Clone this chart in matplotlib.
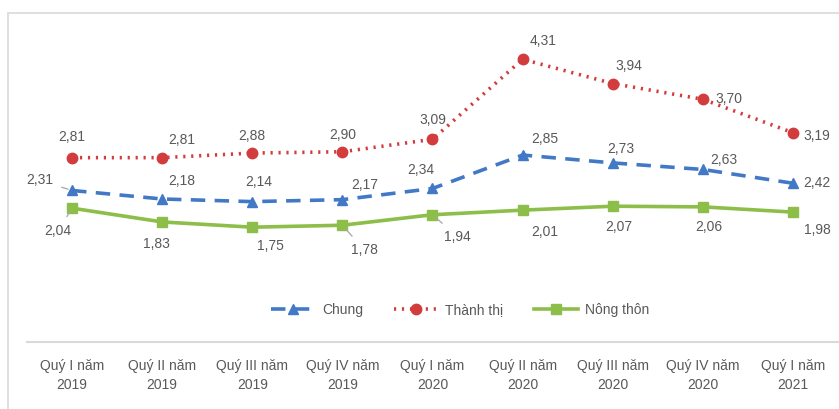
import matplotlib
matplotlib.use("Agg")
import matplotlib.pyplot as plt
from matplotlib.patches import Rectangle

plt.rcParams['font.family'] = ['Liberation Sans Narrow', 'Liberation Sans', 'DejaVu Sans']

quarters = ["Quý I năm\n2019", "Quý II năm\n2019", "Quý III năm\n2019", "Quý IV năm\n2019",
            "Quý I năm\n2020", "Quý II năm\n2020", "Quý III năm\n2020", "Quý IV năm\n2020",
            "Quý I năm\n2021"]
chung = [2.31, 2.18, 2.14, 2.17, 2.34, 2.85, 2.73, 2.63, 2.42]
thanh_thi = [2.81, 2.81, 2.88, 2.90, 3.09, 4.31, 3.94, 3.70, 3.19]
nong_thon = [2.04, 1.83, 1.75, 1.78, 1.94, 2.01, 2.07, 2.06, 1.98]

text_col = "#595959"
blue = "#4279c6"
red = "#d23c3c"
green = "#8dbe4a"

fig = plt.figure(figsize=(8.39, 4.09), dpi=100)
fig.patches.append(Rectangle((8 / 839, -0.1), 1.2, 1 - 13 / 409 + 0.1, transform=fig.transFigure,
                             fill=False, edgecolor="#d9d9d9", linewidth=1.2))
ax = fig.add_axes([27 / 839, 1 - 342 / 409, 811 / 839, 328 / 409])
x = list(range(len(quarters)))

ax.plot(x, chung, color=blue, lw=2.6, ls=(0, (4, 2.6)), marker="^", ms=7.5, label="Chung")
ax.plot(x, thanh_thi, color=red, lw=2.6, ls=(0, (0.6, 1.6)), marker="o", ms=7.5, label="Thành thị")
ax.plot(x, nong_thon, color=green, lw=2.6, marker="s", ms=6.8, label="Nông thôn")

ax.set_xlim(-0.5, len(quarters) - 0.5)
ax.set_ylim(0, 5)
ax.set_xticks(x)
ax.set_xticklabels(quarters, color=text_col, fontsize=10, linespacing=1.5)
ax.tick_params(axis="x", length=0, pad=12)
ax.set_yticks([])
for s in ["top", "left", "right"]:
    ax.spines[s].set_visible(False)
ax.spines["bottom"].set_color("#d9d9d9")
ax.spines["bottom"].set_linewidth(1.5)

# label offsets in pixels, plus which labels get a leader line
off_tt = [(0, 21), (20, 18), (0, 17), (0, 17), (0, 19), (20, 18), (16, 18), (26, 0), (24, -3)]
off_ch = [(-32, 10), (20, 18), (6, 20), (22, 15), (-12, 18), (22, 16), (8, 14), (21, 9), (24, 0)]
off_nt = [(-14, -23), (-6, -22), (18, -19), (22, -25), (25, -22), (22, -22), (6, -21), (6, -20), (24, -18)]
lead_ch = [0]
lead_nt = [0, 3, 4]

def label_series(vals, offs, leads):
    for i, (v, o) in enumerate(zip(vals, offs)):
        kw = {}
        if i in leads:
            kw["arrowprops"] = dict(arrowstyle="-", color="#a6a6a6", lw=0.9, shrinkA=4, shrinkB=3)
        ax.annotate(f"{v:.2f}".replace(".", ","), (i, v), xytext=o, textcoords="offset pixels",
                    ha="center", va="center", fontsize=10, color=text_col, **kw)

label_series(thanh_thi, off_tt, [])
label_series(chung, off_ch, lead_ch)
label_series(nong_thon, off_nt, lead_nt)

ax.legend(loc="center", bbox_to_anchor=(0.534, 0.098), ncol=3, frameon=False,
          fontsize=10, labelcolor=text_col, handlelength=3.2, columnspacing=2.2, handletextpad=0.5)

fig.savefig("out.png", dpi=100, facecolor="white")
